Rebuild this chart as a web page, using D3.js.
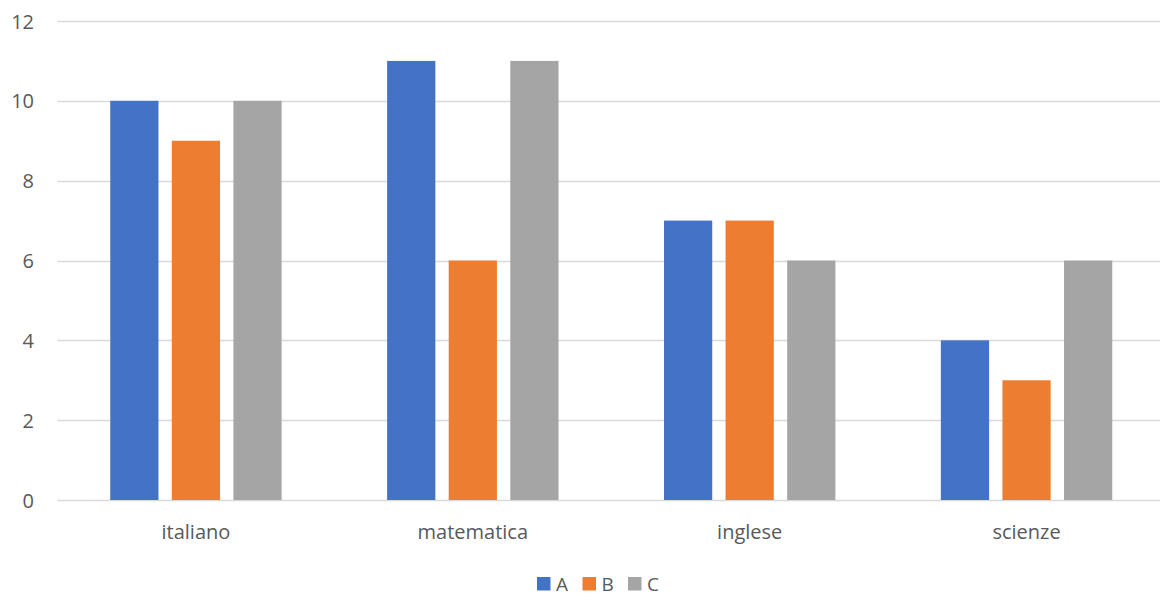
<!DOCTYPE html>
<html>
<head>
<meta charset="utf-8">
<script src="https://cdn.jsdelivr.net/npm/d3@7/dist/d3.min.js"></script>
<style>
  html, body { margin: 0; padding: 0; background: #ffffff; }
  svg { display: block; }
  text { font-family: "Open Sans", "Liberation Sans", sans-serif; fill: #595959; }
</style>
</head>
<body>
<svg id="chart" width="1160" height="596"></svg>
<script>
// Subjects and the three classes compared on each
const categories = ["italiano", "matematica", "inglese", "scienze"];
const seriesNames = ["A", "B", "C"];
const valuesA = [10, 11, 7, 4];
const valuesB = [9, 6, 7, 3];
const valuesC = [10, 11, 6, 6];
const yTicks = [0, 2, 4, 6, 8, 10, 12];
const colors = ["#4472C4", "#ED7D31", "#A5A5A5"];

const seriesValues = [valuesA, valuesB, valuesC];
const rows = categories.map((c, i) => ({
  category: c,
  values: seriesNames.map((s, j) => ({ series: s, value: seriesValues[j][i] }))
}));

const svg = d3.select("#chart");
const plot = { left: 57.5, right: 1165, top: 21, bottom: 500 };

const x = d3.scaleBand()
  .domain(categories)
  .range([plot.left, plot.right])
  .paddingInner(0)
  .paddingOuter(0);

// Bars occupy the middle of each band with a small gap between them
const groupWidth = x.bandwidth() * 0.619;
const xInner = d3.scaleBand()
  .domain(seriesNames)
  .range([0, groupWidth])
  .paddingInner(0.217)
  .paddingOuter(0);

const y = d3.scaleLinear().domain([0, 12]).range([plot.bottom, plot.top]);

// Horizontal gridlines
svg.append("g")
  .selectAll("line")
  .data(yTicks)
  .join("line")
  .attr("x1", plot.left)
  .attr("x2", 1160)
  .attr("y1", d => Math.round(y(d)) + 0.5)
  .attr("y2", d => Math.round(y(d)) + 0.5)
  .attr("stroke", "#d9d9d9")
  .attr("stroke-width", 1.3);

// Y axis labels
const yAxis = d3.axisLeft(y).tickValues(yTicks).tickSize(0).tickPadding(0);
const yg = svg.append("g").attr("transform", "translate(34,0)").call(yAxis);
yg.select(".domain").remove();
yg.selectAll("text")
  .attr("font-size", 20)
  .attr("font-family", "'Open Sans', sans-serif")
  .attr("fill", "#595959")
  .attr("dy", "0.35em");

// Bars
const groups = svg.append("g")
  .selectAll("g")
  .data(rows)
  .join("g")
  .attr("transform", d => `translate(${x(d.category) + (x.bandwidth() - groupWidth) / 2},0)`);

groups.selectAll("rect")
  .data(d => d.values)
  .join("rect")
  .attr("x", d => xInner(d.series))
  .attr("width", xInner.bandwidth())
  .attr("y", d => y(d.value))
  .attr("height", d => y(0) - y(d.value))
  .attr("fill", (d, i) => colors[i]);

// Category labels
const xAxis = d3.axisBottom(x).tickSize(0).tickPadding(0);
const xg = svg.append("g").attr("transform", "translate(0,521)").call(xAxis);
xg.select(".domain").remove();
xg.selectAll("text")
  .attr("font-size", 20)
  .attr("font-family", "'Open Sans', sans-serif")
  .attr("fill", "#595959")
  .attr("dy", "0.9em");

// Legend
const legendX = d3.scalePoint().domain(seriesNames).range([537, 628]);
const legend = svg.append("g")
  .selectAll("g")
  .data(seriesNames)
  .join("g")
  .attr("transform", d => `translate(${legendX(d)},577)`);
legend.append("rect")
  .attr("width", 13.5)
  .attr("height", 13.5)
  .attr("fill", (d, i) => colors[i]);
legend.append("text")
  .attr("x", 19)
  .attr("y", 13.5)
  .attr("font-size", 19)
  .text(d => d);
</script>
</body>
</html>
